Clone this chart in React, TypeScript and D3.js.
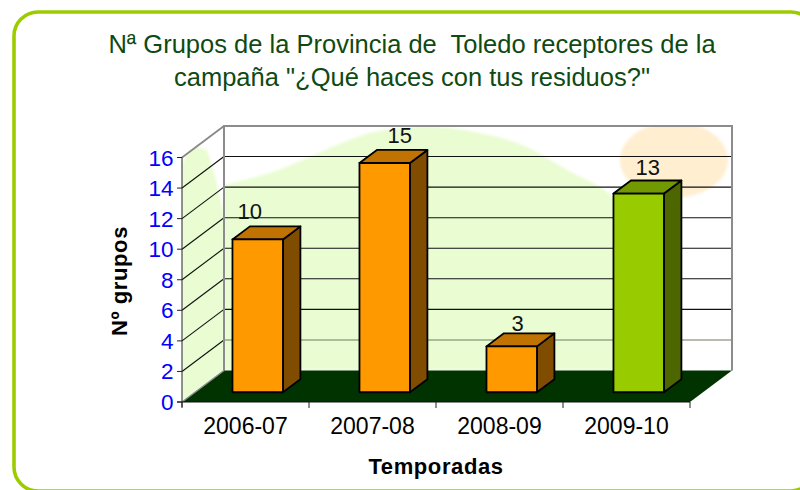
import React from "react";
import * as d3 from "d3";

const categories = ["2006-07", "2007-08", "2008-09", "2009-10"];
const values = [10, 15, 3, 13];
const barFill = ["#ff9900", "#ff9900", "#ff9900", "#99cc00"];
const barTop = ["#c07300", "#c07300", "#c07300", "#739900"];
const barSide = ["#804d00", "#804d00", "#804d00", "#4d6600"];
const yTicks = [0, 2, 4, 6, 8, 10, 12, 14, 16];
const title = ["Nª Grupos de la Provincia de  Toledo receptores de la", "campaña \"¿Qué haces con tus residuos?\""];
const yTitle = "Nº grupos";
const xTitle = "Temporadas";
const greenEdge: [number, number][] = [[224, 185], [270, 173], [303, 160], [337, 145], [370, 133], [403, 128], [440, 127], [517, 143], [567, 170], [613, 197], [640, 240], [650, 300], [650, 380]];
const labelNudge = [[-8, -7.5], [15, -6.5], [6, -2], [9, -6]];

const W = 800, H = 490;
const font = "'Liberation Sans', Arial, sans-serif";
const y = d3.scaleLinear().domain([0, 16]).range([402, 157.5]);
const x = d3.scaleBand().domain(categories).range([182, 690]);
const depthX = d3.scaleLinear().domain([0, 1]).range([0, 42]);
const depthY = d3.scaleLinear().domain([0, 1]).range([0, -31.5]);
const barWidth = 50.5;
const barDepthStart = 0.31;
const barDepthEnd = 0.725;
const poly = (pts: [number, number][]) => pts.map((p) => p.join(",")).join(" ");
const edgeLine = d3.line().curve(d3.curveCatmullRom);

export default function App() {
  const dx = depthX(1), dy = depthY(1);
  const x0 = 182, x1 = 690, y0 = y(0), y16 = y(16);
  const greenPath = edgeLine(greenEdge) + ` L650,${y0 + dy} L224,${y0 + dy} Z`;
  return (
    <svg width={W} height={H} style={{ position: "fixed", left: 0, top: 0, display: "block", background: "#fff" }} fontFamily={font}>
      <defs>
        <filter id="soft" x="-20%" y="-20%" width="140%" height="140%"><feGaussianBlur stdDeviation="1.5" /></filter>
        <clipPath id="wall"><rect x={x0 + dx} y={y16 + dy} width={x1 - x0} height={y0 - y16} /></clipPath>
        <clipPath id="side"><polygon points={poly([[x0, y0], [x0 + dx, y0 + dy], [x0 + dx, y16 + dy], [x0, y16]])} /></clipPath>
      </defs>
      <rect x={14} y={12} width={801} height={479} rx={24} fill="#fff" stroke="#9ccc00" strokeWidth={3.6} />

      <g clipPath="url(#wall)">
        <path d={greenPath!} fill="#e9fcd2" filter="url(#soft)" />
        <ellipse cx={674} cy={160} rx={54} ry={38} fill="#ffeed0" filter="url(#soft)" />
      </g>
      <g clipPath="url(#side)">
        <polygon points={poly([[x0, y0], [x0 + dx, y0 + dy], [x0 + dx, 215], [x0 + 34, 180], [x0 + 25, 150], [x0 + 8, 145], [x0, 165]])} fill="#e9fcd2" filter="url(#soft)" />
      </g>

      {yTicks.filter((t) => t > 0).map((t) => (
        <g key={t} stroke={t === 2 ? "#6f7d60" : "#111"} strokeWidth={1.1}>
          <line x1={x0} y1={y(t)} x2={x0 + dx} y2={y(t) + dy} stroke={t === 16 ? "#888" : "#111"} strokeWidth={t === 16 ? 1.8 : 1.1} />
          {t < 16 && <line x1={x0 + dx} y1={y(t) + dy} x2={x1 + dx} y2={y(t) + dy} />}
        </g>
      ))}
      <polyline points={poly([[x0 + dx, y0 + dy], [x0 + dx, y16 + dy], [x1 + dx, y16 + dy], [x1 + dx, y0 + dy]])} fill="none" stroke="#8c8c8c" strokeWidth={2} />
      <polygon points={poly([[x0, y0], [x1, y0], [x1 + dx, y0 + dy], [x0 + dx, y0 + dy]])} fill="#003300" />
      <line x1={x0} y1={y0} x2={x0 + dx} y2={y0 + dy} stroke="#8c8c8c" strokeWidth={1.5} />

      <line x1={x0} y1={y16} x2={x0} y2={y0 + 5} stroke="#222" strokeWidth={1} />
      <line x1={x0 - 5} y1={y0} x2={x1} y2={y0} stroke="#111" strokeWidth={1} />
      {yTicks.map((t) => (
        <g key={t}>
          <line x1={x0 - 5} x2={x0} y1={y(t)} y2={y(t)} stroke="#222" />
          <text x={x0 - 8.5} y={y(t) + 8} textAnchor="end" fontSize={22.5} fill="#0000ff">{t}</text>
        </g>
      ))}
      {[...x.domain().map((c) => x(c)!), x1].map((v) => (
        <line key={v} x1={v} x2={v} y1={y0} y2={y0 + 6} stroke="#222" />
      ))}
      {categories.map((c) => (
        <text key={c} x={x(c)! + x.bandwidth() / 2} y={434} textAnchor="middle" fontSize={23} fill="#000">{c}</text>
      ))}

      {categories.map((c, i) => {
        const left = x(c)! + x.bandwidth() / 2 - barWidth / 2 + depthX(barDepthStart) - 0.8;
        const right = left + barWidth;
        const bottom = y(0) + depthY(barDepthStart);
        const top = y(values[i]) + depthY(barDepthStart);
        const ox = depthX(barDepthEnd - barDepthStart), oy = depthY(barDepthEnd - barDepthStart);
        return (
          <g key={c} stroke="#000" strokeWidth={1.8} strokeLinejoin="round">
            <polygon points={poly([[right, bottom], [right + ox, bottom + oy], [right + ox, top + oy], [right, top]])} fill={barSide[i]} />
            <polygon points={poly([[left, top], [right, top], [right + ox, top + oy], [left + ox, top + oy]])} fill={barTop[i]} />
            <rect x={left} y={top} width={barWidth} height={bottom - top} fill={barFill[i]} />
            <text x={left + barWidth / 2 + labelNudge[i][0]} y={top + oy + labelNudge[i][1]} textAnchor="middle" fontSize={22} fill="#111" stroke="none">{values[i]}</text>
          </g>
        );
      })}

      {title.map((t, i) => (
        <text key={i} x={412} y={53 + i * 33} textAnchor="middle" fontSize={25.5} fill="#0f4a12" xmlSpace="preserve" style={{ whiteSpace: "pre" }}>{t}</text>
      ))}
      <text transform="translate(127,281) rotate(-90)" textAnchor="middle" fontSize={22} fontWeight="bold" fill="#000" letterSpacing={0.6}>{yTitle}</text>
      <text x={436} y={474} textAnchor="middle" fontSize={22} fontWeight="bold" fill="#000" letterSpacing={0.6}>{xTitle}</text>
    </svg>
  );
}
